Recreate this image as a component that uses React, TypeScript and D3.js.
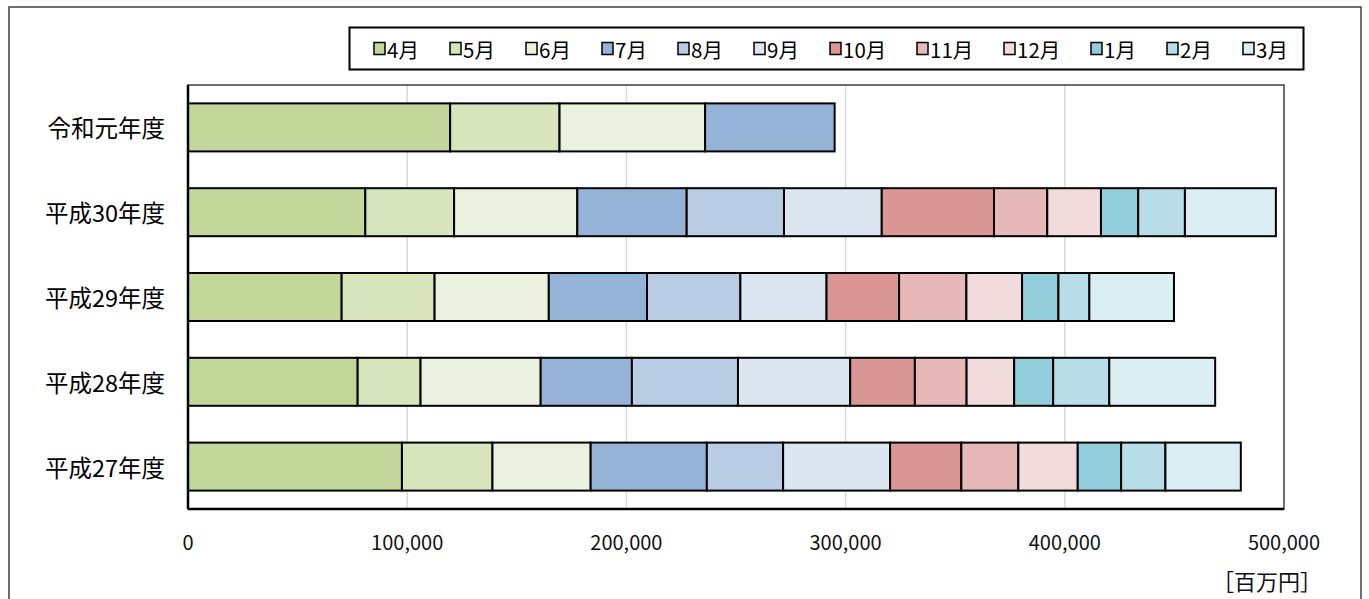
import React from "react";
import { scaleLinear, scaleBand } from "d3";

const years = ["令和元年度", "平成30年度", "平成29年度", "平成28年度", "平成27年度"];
const months = ["4月", "5月", "6月", "7月", "8月", "9月", "10月", "11月", "12月", "1月", "2月", "3月"];
const colors = [
  "#c4d79b", "#d8e4bc", "#ebf1de",
  "#95b3d7", "#b8cce4", "#dce6f1",
  "#da9694", "#e6b8b7", "#f2dcdb",
  "#92cddc", "#b7dee8", "#daeef3",
];

// monthly values [百万円], per fiscal year (April -> March)
const r1 = [119600, 49900, 66400, 59100];
const h30 = [80900, 40500, 56200, 49900, 44400, 44600, 51200, 24300, 24500, 17000, 21300, 41500];
const h29 = [70100, 42400, 52100, 44800, 42600, 39300, 33100, 30700, 25400, 16600, 14100, 38600];
const h28 = [77400, 28700, 54800, 41600, 48400, 51200, 29500, 23600, 21700, 17800, 25600, 48300];
const h27 = [97600, 41300, 44800, 53000, 34800, 48800, 32500, 26000, 27100, 19800, 20200, 34400];
const series = [r1, h30, h29, h28, h27];

const xTicks = [0, 100000, 200000, 300000, 400000, 500000];

const W = 1369;
const H = 599;
const plot = { left: 188, right: 1284, top: 85, bottom: 509 };
const font = "'Noto Sans CJK JP', 'Noto Sans', sans-serif";

export default function App() {
  const x = scaleLinear().domain([0, 500000]).range([plot.left, plot.right]);
  const y = scaleBand<string>()
    .domain(years)
    .range([plot.top, plot.bottom])
    .paddingInner(0.434)
    .paddingOuter(0.217);

  // legend layout: width depends on label length
  let lx = 374;
  const legendItems = months.map((m, i) => {
    const item = { m, i, x: lx };
    const digits = m.length - 1;
    lx += 13 + digits * 11 + 20 + 32;
    return item;
  });

  return (
    <svg
      width={W}
      height={H}
      style={{ position: "absolute", left: 0, top: 0, background: "#fff" }}
      fontFamily={font}
    >
      <rect x={9} y={7} width={1352} height={620} fill="#fff" stroke="#404040" strokeWidth={1.5} />

      {/* grid */}
      {xTicks.slice(1, -1).map((t) => (
        <line key={t} x1={x(t)} x2={x(t)} y1={plot.top} y2={plot.bottom} stroke="#d9d9d9" strokeWidth={1.5} />
      ))}
      <rect
        x={plot.left}
        y={plot.top}
        width={plot.right - plot.left}
        height={plot.bottom - plot.top}
        fill="none"
        stroke="#404040"
        strokeWidth={1.5}
      />

      {/* bars */}
      {series.map((vals, r) => {
        let acc = 0;
        return (
          <g key={years[r]}>
            {vals.map((v, i) => {
              const x0 = x(acc);
              acc += v;
              const x1 = x(acc);
              return (
                <rect
                  key={i}
                  x={x0}
                  y={y(years[r])}
                  width={x1 - x0}
                  height={y.bandwidth()}
                  fill={colors[i]}
                  stroke="#000"
                  strokeWidth={2}
                />
              );
            })}
          </g>
        );
      })}

      {/* axes */}
      <line x1={plot.left} x2={plot.left} y1={plot.top} y2={plot.bottom} stroke="#000" strokeWidth={2.5} />
      <line x1={plot.left} x2={plot.right} y1={plot.bottom} y2={plot.bottom} stroke="#000" strokeWidth={2.5} />

      {years.map((c) => (
        <text
          key={c}
          x={165}
          y={(y(c) as number) + y.bandwidth() / 2}
          textAnchor="end"
          dominantBaseline="central"
          fontSize={23.5}
          fill="#000"
        >
          {c}
        </text>
      ))}

      {xTicks.map((t) => (
        <text key={t} x={x(t)} y={541} textAnchor="middle" dominantBaseline="central" fontSize={20} fill="#111">
          {t.toLocaleString("en-US")}
        </text>
      ))}

      <text x={1322} y={580} textAnchor="end" dominantBaseline="central" fontSize={22} fill="#111">
        ［百万円］
      </text>

      {/* legend */}
      <rect x={349.5} y={27.5} width={954} height={42} fill="#fff" stroke="#000" strokeWidth={2} />
      {legendItems.map(({ m, i, x: ix }) => (
        <g key={m}>
          <rect x={ix} y={42.5} width={11} height={12} fill={colors[i]} stroke="#000" strokeWidth={1.5} />
          <text x={ix + 13} y={49} dominantBaseline="central" fontSize={20.5} fill="#000">
            {m}
          </text>
        </g>
      ))}
    </svg>
  );
}
